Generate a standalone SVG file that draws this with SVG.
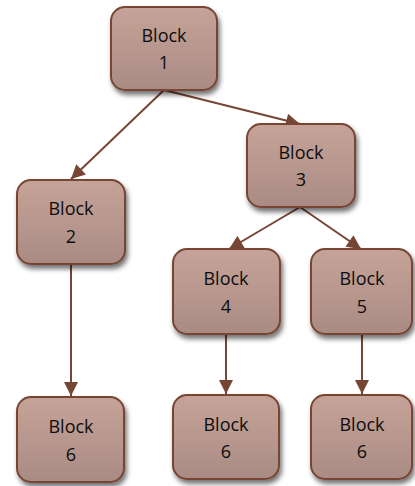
<svg xmlns="http://www.w3.org/2000/svg" width="415" height="486" viewBox="0 0 415 486">
  <defs>
    <linearGradient id="blockFill" x1="0" y1="0" x2="0" y2="1">
      <stop offset="0" stop-color="#c6a398"/>
      <stop offset="1" stop-color="#a98b84"/>
    </linearGradient>
    <filter id="shadow" x="-20%" y="-20%" width="150%" height="150%">
      <feDropShadow dx="2" dy="4" stdDeviation="2.5" flood-color="#000" flood-opacity="0.55"/>
    </filter>
    <marker id="arrow" viewBox="0 0 10 10" refX="10" refY="5" markerWidth="7.5" markerHeight="7" markerUnits="strokeWidth" orient="auto">
      <path d="M0,0 L10,5 L0,10 z" fill="#774533"/>
    </marker>
  </defs>
  <style>
    .block rect { fill: url(#blockFill); stroke: #774533; stroke-width: 2; filter: url(#shadow); }
    .block text { font-family: "Open Sans", "Liberation Sans", sans-serif; font-size: 18px; fill: #0d0d0d; text-anchor: middle; }
    .edges line { stroke: #774533; stroke-width: 2; marker-end: url(#arrow); }
  </style>

  <g class="edges">
    <line x1="164" y1="90" x2="71" y2="179"/>
    <line x1="164" y1="90" x2="300" y2="124"/>
    <line x1="300" y1="207" x2="229" y2="249"/>
    <line x1="300" y1="207" x2="361" y2="249"/>
    <line x1="71" y1="264" x2="71" y2="396"/>
    <line x1="226" y1="334" x2="226" y2="394"/>
    <line x1="362" y1="334" x2="362" y2="394"/>
  </g>

  <g id="block1" class="block">
    <rect x="111" y="7" width="106" height="83" rx="14"/>
    <text x="164" y="42">Block</text>
    <text x="164" y="69">1</text>
  </g>
  <g id="block2" class="block">
    <rect x="17" y="180" width="108" height="84" rx="14"/>
    <text x="71" y="215">Block</text>
    <text x="71" y="243">2</text>
  </g>
  <g id="block3" class="block">
    <rect x="247" y="124" width="108" height="83" rx="14"/>
    <text x="301" y="159">Block</text>
    <text x="301" y="186">3</text>
  </g>
  <g id="block4" class="block">
    <rect x="173" y="249" width="107" height="85" rx="14"/>
    <text x="226" y="285">Block</text>
    <text x="226" y="313">4</text>
  </g>
  <g id="block5" class="block">
    <rect x="311" y="249" width="101" height="85" rx="14"/>
    <text x="362" y="285">Block</text>
    <text x="362" y="313">5</text>
  </g>
  <g id="block6a" class="block">
    <rect x="17" y="397" width="107" height="85" rx="14"/>
    <text x="71" y="433">Block</text>
    <text x="71" y="461">6</text>
  </g>
  <g id="block6b" class="block">
    <rect x="173" y="395" width="106" height="84" rx="14"/>
    <text x="226" y="431">Block</text>
    <text x="226" y="458">6</text>
  </g>
  <g id="block6c" class="block">
    <rect x="311" y="395" width="101" height="84" rx="14"/>
    <text x="362" y="431">Block</text>
    <text x="362" y="458">6</text>
  </g>
</svg>
